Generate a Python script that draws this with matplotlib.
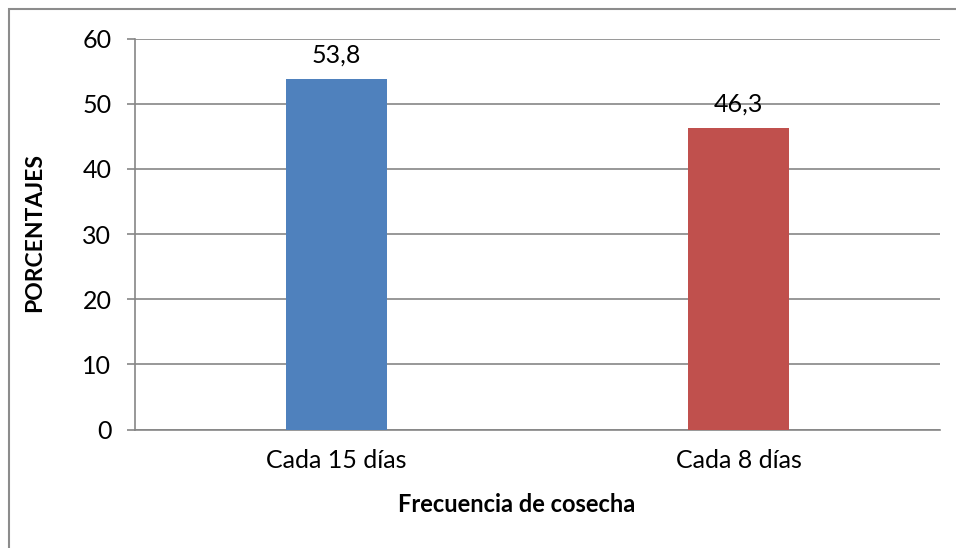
import matplotlib
matplotlib.use("Agg")
import matplotlib.pyplot as plt
from matplotlib.patches import Rectangle

categories = ["Cada 15 días", "Cada 8 días"]
values = [53.8, 46.3]
colors = ["#4F81BD", "#C0504D"]
yticks = [0, 10, 20, 30, 40, 50, 60]

plt.rcParams['font.family'] = ['Lato', 'DejaVu Sans']

W, H = 956, 548
fig = plt.figure(figsize=(W/100, H/100), dpi=100)
fig.patch.set_facecolor("white")

# outer chart border
fig.patches.append(Rectangle((9/W, -0.1), 1.2, 1 - 9/H + 0.1, transform=fig.transFigure,
                             fill=False, edgecolor="#8c8c8c", linewidth=1.5))

ax = fig.add_axes([135/W, 1 - 429.5/H, (940-135)/W, (429.5-38.5)/H])
x = list(range(len(categories)))
bars = ax.bar(x, values, width=0.25, color=colors, zorder=3)
ax.set_xlim(-0.5, 1.5)
ax.set_ylim(0, 60)
ax.set_yticks(yticks)
ax.set_yticklabels([str(t) for t in yticks], fontsize=18)
ax.set_xticks(x)
ax.set_xticklabels(categories, fontsize=18)
ax.yaxis.grid(True, color="#868686", linewidth=1.2, zorder=0)
ax.set_axisbelow(True)
for s in ["top", "right"]:
    ax.spines[s].set_visible(False)
ax.spines["left"].set_color("#868686")
ax.spines["bottom"].set_color("#868686")
ax.spines["left"].set_linewidth(1.2)
ax.spines["bottom"].set_linewidth(1.2)
ax.tick_params(axis="y", length=6, width=1.2, color="#868686", pad=11)
ax.tick_params(axis="x", length=0, pad=14)

for xi, v in zip(x, values):
    ax.annotate(f"{v:.1f}".replace(".", ","), (xi, v), xytext=(0, 9),
                textcoords="offset points", ha="center", va="bottom", fontsize=18)

ax.set_ylabel("PORCENTAJES", fontsize=16.5, fontweight="bold", va="center")
ax.yaxis.set_label_coords((35 - 135) / 805, (429.5 - 233) / 391)
ax.set_xlabel("Frecuencia de cosecha", fontsize=17, fontweight="bold", va="center")
ax.xaxis.set_label_coords((517 - 135) / 805, (429.5 - 505) / 391)

fig.savefig("out.png", dpi=100)
